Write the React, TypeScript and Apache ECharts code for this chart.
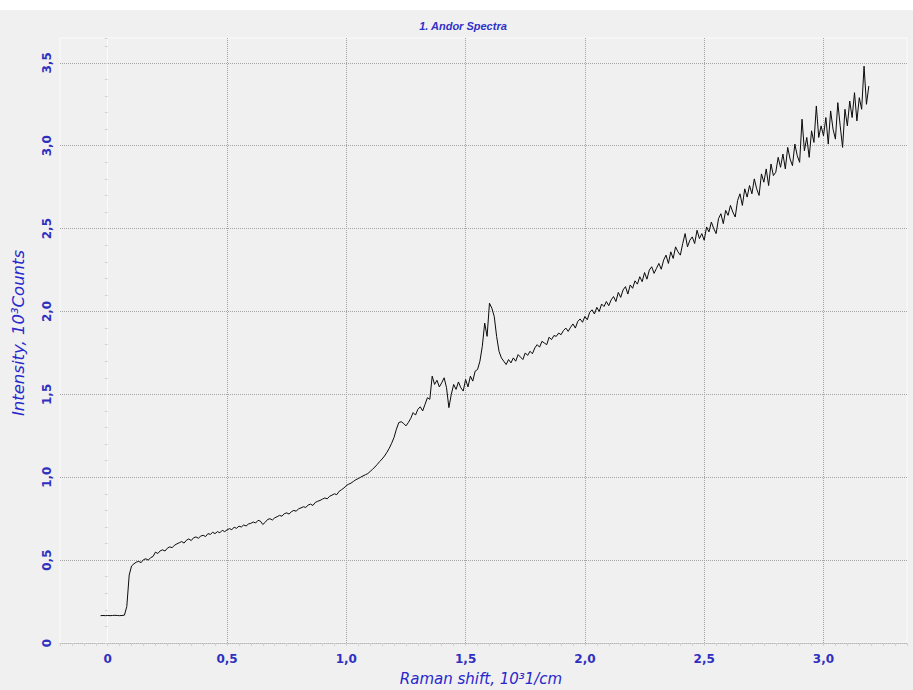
import React, { useEffect, useRef } from "react";
import * as echarts from "echarts";

// Raman shift grid (10^3 1/cm)
const xStart = -0.03;
const xStep = 0.01;

// Intensity (10^3 counts), one value per xStep
const intensity = [
  0.165, 0.166, 0.165,
  0.166, 0.165, 0.166, 0.167, 0.166, 0.165, 0.166, 0.168, 0.22, 0.41,
  0.465, 0.478, 0.488, 0.492, 0.485, 0.503, 0.508, 0.5, 0.515, 0.522,
  0.548, 0.54, 0.556, 0.562, 0.555, 0.572, 0.58, 0.575, 0.59, 0.598,
  0.605, 0.612, 0.603, 0.62, 0.628, 0.618, 0.635, 0.64, 0.632, 0.645,
  0.65, 0.642, 0.66, 0.655, 0.668, 0.66, 0.672, 0.665, 0.68, 0.672,
  0.682, 0.69, 0.684, 0.698, 0.692, 0.705, 0.7, 0.712, 0.706, 0.718,
  0.722, 0.73, 0.724, 0.74, 0.735, 0.715, 0.728, 0.745, 0.75, 0.742,
  0.755, 0.762, 0.77, 0.765, 0.78, 0.785, 0.778, 0.792, 0.8, 0.795,
  0.81, 0.815, 0.822, 0.818, 0.832, 0.838, 0.83, 0.848, 0.855, 0.86,
  0.868, 0.875, 0.87, 0.885, 0.892, 0.9, 0.895, 0.915, 0.925, 0.935,
  0.95, 0.958, 0.965, 0.975, 0.985, 0.992, 1.0, 1.008, 1.015, 1.022,
  1.035, 1.048, 1.062, 1.078, 1.095, 1.11, 1.128, 1.15, 1.175, 1.205,
  1.24, 1.29, 1.33, 1.335, 1.325, 1.31, 1.33, 1.355, 1.39, 1.375,
  1.41, 1.425, 1.4, 1.44, 1.48, 1.47, 1.61, 1.56, 1.585, 1.545,
  1.57, 1.6, 1.54, 1.42, 1.5, 1.56, 1.53, 1.575, 1.54, 1.52,
  1.59, 1.545, 1.61, 1.58, 1.64, 1.65, 1.7, 1.79, 1.93, 1.85,
  2.05, 2.02, 1.97, 1.85, 1.76, 1.72, 1.7, 1.68, 1.71, 1.69,
  1.72, 1.7, 1.74, 1.725, 1.71, 1.75, 1.735, 1.76, 1.745, 1.78,
  1.8, 1.785, 1.82, 1.81, 1.8, 1.845, 1.83, 1.855, 1.85, 1.87,
  1.86, 1.885, 1.9, 1.88, 1.905, 1.925, 1.9, 1.94, 1.955, 1.935,
  1.97, 1.95, 1.995, 2.01, 1.985, 2.025, 2.0, 2.045, 2.03, 2.06,
  2.035, 2.07, 2.09, 2.06, 2.115, 2.085, 2.13, 2.15, 2.105, 2.16,
  2.14, 2.185, 2.165, 2.21, 2.18, 2.235, 2.195, 2.25, 2.27, 2.23,
  2.26, 2.29, 2.255, 2.31, 2.34, 2.29, 2.36, 2.32, 2.39, 2.36,
  2.34, 2.41, 2.47, 2.39, 2.43, 2.45, 2.41, 2.49, 2.44, 2.47,
  2.43, 2.51, 2.48, 2.54, 2.5, 2.47, 2.56, 2.59, 2.53, 2.61,
  2.58, 2.64, 2.6, 2.57, 2.67, 2.71, 2.64, 2.74, 2.69, 2.76,
  2.71, 2.8, 2.74, 2.7, 2.83, 2.78, 2.86, 2.76, 2.89, 2.82,
  2.84, 2.93, 2.87, 2.95, 2.86, 2.99, 2.92, 2.88, 3.01, 2.94,
  2.9, 3.16, 2.97, 3.05, 2.93, 3.09, 3.02, 3.24, 3.05, 3.12,
  3.06, 3.17, 3.01, 3.21, 3.1, 3.04, 3.26, 3.12, 2.99, 3.22,
  3.12, 3.27, 3.17, 3.32, 3.15, 3.29, 3.22, 3.48, 3.25, 3.36,
];

const xTicks = [0, 0.5, 1, 1.5, 2, 2.5, 3];
const yTicks = [0, 0.5, 1, 1.5, 2, 2.5, 3, 3.5];
const titleText = "1. Andor Spectra";
const xName = "Raman shift, 10³1/cm";
const yName = "Intensity, 10³Counts";

const fmt = (v: number) => (v === 0 ? "0" : v.toFixed(1).replace(".", ","));

export default function App() {
  const ref = useRef<HTMLDivElement>(null);
  useEffect(() => {
    const chart = echarts.init(ref.current!, null, { renderer: "svg" });
    const data = intensity.map((y, i) => [Math.round((xStart + i * xStep) * 1000) / 1000, y]);
    const labelColor = "#2f2fc0";
    const nameColor = "#2828cc";
    const grid = "#a4a4a4";
    chart.setOption({
      animation: false,
      backgroundColor: "#f0f0f0",
      grid: {
        left: 60,
        top: 38,
        right: 6,
        bottom: 47,
        show: true,
        borderColor: "#fbfbfb",
        borderWidth: 1,
        backgroundColor: "transparent",
      },
      xAxis: [
        {
          type: "value",
          min: -0.2,
          max: 3.35,
          position: "bottom",
          axisLine: { show: true, lineStyle: { color: "#b4b4b4", type: "dotted", width: 1 } },
          axisTick: { show: false, customValues: xTicks },
          axisLabel: {
            customValues: xTicks,
            formatter: fmt,
            color: labelColor,
            fontFamily: "DejaVu Sans",
            fontWeight: "bold",
            fontSize: 12,
            margin: 10,
          },
          splitLine: { show: true, lineStyle: { color: grid, type: "dotted", width: 1 } },
        },
        {
          type: "value",
          min: -0.2,
          max: 3.35,
          interval: 0.05,
          position: "bottom",
          axisLine: { show: false },
          axisTick: { show: true, length: 3, lineStyle: { color: "#d2d2d2" } },
          axisLabel: { show: false },
          splitLine: { show: false },
        },
      ],
      yAxis: [
        {
          type: "value",
          min: 0,
          max: 3.65,
          position: "left",
          axisLine: { show: true, lineStyle: { color: "#fafafa", width: 1 } },
          axisTick: { show: false, customValues: yTicks },
          axisLabel: {
            customValues: yTicks,
            formatter: fmt,
            rotate: 90,
            color: labelColor,
            fontFamily: "DejaVu Sans",
            fontWeight: "bold",
            fontSize: 12,
            margin: 7,
          },
          splitLine: { show: true, lineStyle: { color: grid, type: "dotted", width: 1 } },
        },
        {
          type: "value",
          min: 0,
          max: 3.65,
          interval: 0.1,
          position: "left",
          axisLine: { show: false },
          axisTick: { show: true, length: 3, lineStyle: { color: "#d2d2d2" } },
          axisLabel: { show: false },
          splitLine: { show: false },
        },
      ],
      graphic: [
        { type: "rect", left: 0, top: 0, shape: { width: 913, height: 10 }, style: { fill: "#ffffff" }, z: -1 },
        {
          type: "text",
          x: 463,
          y: 26,
          style: {
            text: titleText,
            textAlign: "center",
            textVerticalAlign: "middle",
            font: 'italic bold 11px "Liberation Sans"',
            fill: "#3030c8",
          },
        },
        {
          type: "text",
          x: 481,
          y: 679,
          style: {
            text: xName,
            textAlign: "center",
            textVerticalAlign: "middle",
            font: 'italic 15px "DejaVu Sans"',
            fill: nameColor,
          },
        },
        {
          type: "text",
          x: 18,
          y: 333,
          rotation: Math.PI / 2,
          style: {
            text: yName,
            textAlign: "center",
            textVerticalAlign: "middle",
            font: 'italic 16.5px "DejaVu Sans"',
            fill: nameColor,
          },
        },
      ],
      series: [
        {
          type: "line",
          data,
          xAxisIndex: 0,
          yAxisIndex: 0,
          showSymbol: false,
          symbol: "none",
          lineStyle: { color: "#0a0a0a", width: 1 },
        },
      ],
    });
    return () => chart.dispose();
  }, []);
  return <div ref={ref} style={{ position: "fixed", left: 0, top: 0, width: 913, height: 690 }} />;
}
